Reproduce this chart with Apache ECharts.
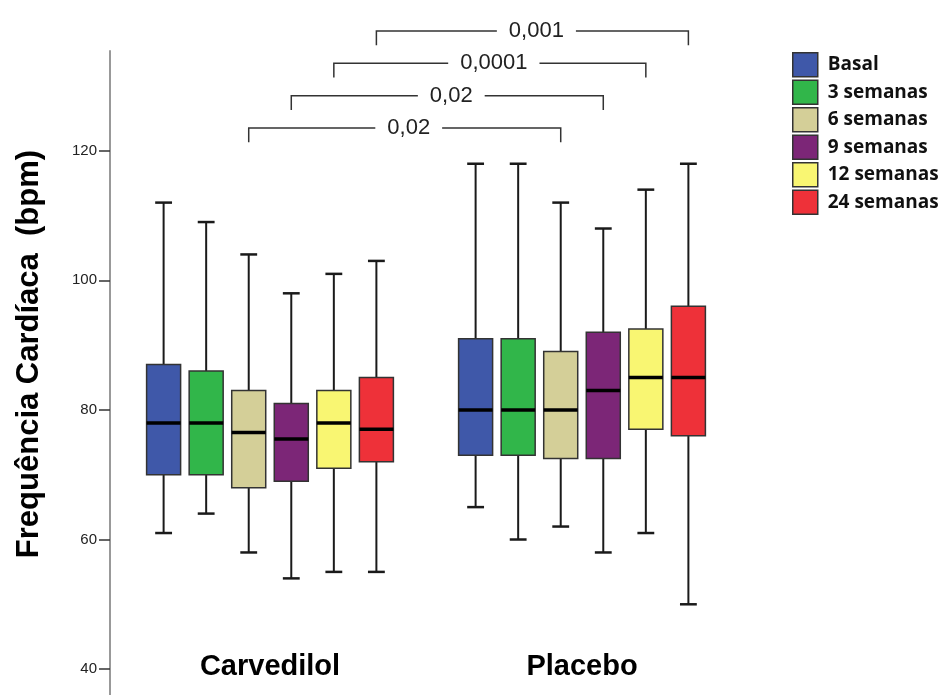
<!DOCTYPE html>
<html><head><meta charset="utf-8">
<script src="https://cdn.jsdelivr.net/npm/echarts@6/dist/echarts.min.js"></script>
<style>html,body{margin:0;padding:0;background:#fff}#c{width:948px;height:695px}</style>
</head><body><div id="c"></div>
<script>
// ---- data ----
const groups = ['Carvedilol', 'Placebo'];
const weeks = ['Basal', '3 semanas', '6 semanas', '9 semanas', '12 semanas', '24 semanas'];
// [min, Q1, median, Q3, max] for [Carvedilol, Placebo]
const basal = [[61, 70, 78, 87, 112], [65, 73, 80, 91, 118]];
const sem3  = [[64, 70, 78, 86, 109], [60, 73, 80, 91, 118]];
const sem6  = [[58, 68, 76.5, 83, 104], [62, 72.5, 80, 89, 112]];
const sem9  = [[54, 69, 75.5, 81, 98], [58, 72.5, 83, 92, 108]];
const sem12 = [[55, 71, 78, 83, 101], [61, 77, 85, 92.5, 114]];
const sem24 = [[55, 72, 77, 85, 103], [50, 76, 85, 96, 118]];
const yTicks = [40, 60, 80, 100, 120];
// group comparison brackets: week index compared between groups, p-value
const bracketWeeks = [2, 3, 4, 5];
const pValues = ['0,02', '0,02', '0,0001', '0,001'];

// ---- layout / style ----
const weekValues = [basal, sem3, sem6, sem9, sem12, sem24];
const colors = ['#3f58a9', '#31b64a', '#d4cf98', '#7c2677', '#f9f672', '#ee3139'];
const SLOT = 0.1364, BOXW = 0.109, CAPW = 0.054;
const BR_BASE = 123.5, BR_STEP = 5, BR_DROP = 2.2;
const SANS = '"Liberation Sans", Arial, sans-serif';

function slotX(api, g, k, v) {
  const bw = api.size([1, 0])[0];
  return api.coord([g, v])[0] + (k - 2.5) * SLOT * bw;
}
const ln = (x1, y1, x2, y2, w, c) => ({type: 'line', shape: {x1, y1, x2, y2}, style: {stroke: c || '#1a1a1a', lineWidth: w}});

const boxSeries = weeks.map((name, k) => ({
  name, type: 'custom',
  itemStyle: {color: colors[k], borderColor: '#333', borderWidth: 1.5},
  encode: {x: 0, y: [1, 2, 3, 4, 5]},
  data: weekValues[k].map((v, gi) => [gi].concat(v)),
  renderItem(params, api) {
    const g = api.value(0);
    const vals = [1, 2, 3, 4, 5].map(d => api.value(d));
    const bw = api.size([1, 0])[0];
    const cx = slotX(api, g, k, vals[2]);
    const y = vals.map(v => api.coord([g, v])[1]);
    const hw = BOXW * bw / 2, hc = CAPW * bw / 2;
    return {type: 'group', children: [
      ln(cx, y[4], cx, y[3], 2),
      ln(cx, y[1], cx, y[0], 2),
      ln(cx - hc, y[4], cx + hc, y[4], 2.5),
      ln(cx - hc, y[0], cx + hc, y[0], 2.5),
      {type: 'rect', shape: {x: cx - hw, y: y[3], width: 2 * hw, height: y[1] - y[3]},
       style: {fill: colors[k], stroke: '#333', lineWidth: 1.5}},
      ln(cx - hw, y[2], cx + hw, y[2], 3.5, '#000')
    ]};
  }
}));

const bracketSeries = {
  type: 'custom', name: 'p', silent: true,
  encode: {x: 0, y: 1},
  data: pValues.map((p, i) => [0, BR_BASE + i * BR_STEP]),
  renderItem(params, api) {
    const i = params.dataIndex, k = bracketWeeks[i];
    const v = api.value(1);
    const x1 = slotX(api, 0, k, v), x2 = slotX(api, 1, k, v);
    const y = api.coord([0, v])[1], yd = api.coord([0, v - BR_DROP])[1];
    return {type: 'group', children: [
      {type: 'polyline', shape: {points: [[x1, yd], [x1, y], [x2, y], [x2, yd]]},
       style: {stroke: '#333', lineWidth: 1.5, fill: 'none'}},
      {type: 'text', x: (x1 + x2) / 2 + 4, y: y,
       style: {text: pValues[i], fill: '#222', fontSize: 22, fontFamily: SANS, align: 'center',
               verticalAlign: 'middle', backgroundColor: '#fff', padding: [0, 12]}}
    ]};
  }
};

const chart = echarts.init(document.getElementById('c'), null, {renderer: 'canvas'});
chart.setOption({
  animation: false,
  backgroundColor: '#fff',
  grid: {left: 114, width: 624, top: 51, height: 646},
  legend: {
    orient: 'vertical', left: 787, top: 47, itemWidth: 25, itemHeight: 24, itemGap: 2, icon: 'rect',
    data: weeks.map((w, k) => ({name: w, itemStyle: {color: colors[k], borderColor: '#333', borderWidth: 1.5}})),
    textStyle: {fontFamily: '"Open Sans", sans-serif', fontWeight: 'bold', fontSize: 19, color: '#111', padding: [0, 0, 0, 5]}
  },
  xAxis: {
    type: 'category', data: groups,
    axisLine: {show: false}, axisTick: {show: false}, splitLine: {show: false},
    axisLabel: {margin: -28, verticalAlign: 'middle', fontSize: 29, fontWeight: 'bold', color: '#000', fontFamily: SANS}
  },
  yAxis: {
    type: 'value', min: 36, max: 135.4, offset: 4,
    axisLine: {show: true, lineStyle: {color: '#999', width: 2}},
    axisTick: {show: true, length: 11, customValues: yTicks, lineStyle: {color: '#333', width: 1.5}},
    axisLabel: {customValues: yTicks, margin: 13, color: '#222', fontSize: 15, fontFamily: SANS},
    splitLine: {show: false},
    name: 'Frequência Cardíaca  (bpm)', nameLocation: 'middle', nameGap: 65, nameRotate: 90,
    nameTextStyle: {fontSize: 31, fontWeight: 'bold', fontFamily: SANS, color: '#000', padding: [0, 0, 0, 38]}
  },
  series: boxSeries.concat([bracketSeries])
});
</script></body></html>
